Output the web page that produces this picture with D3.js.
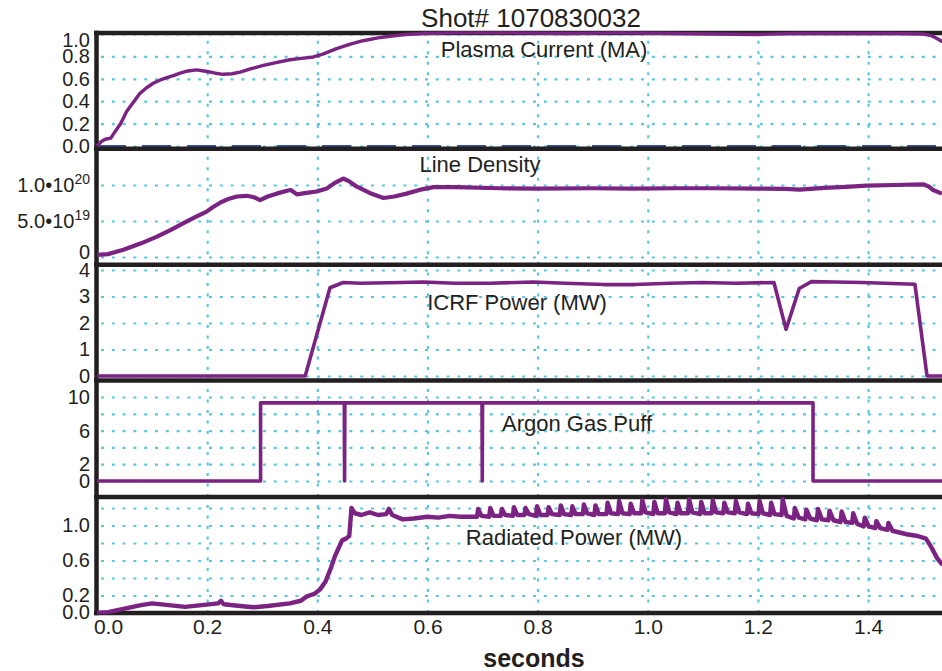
<!DOCTYPE html>
<html><head><meta charset="utf-8">
<script src="https://cdn.jsdelivr.net/npm/d3@7"></script>
<style>
body{margin:0;background:#fff;}
text{font-family:"Liberation Sans",Arial,Helvetica,sans-serif;fill:#231f20;}
</style></head>
<body>
<script>
// ---------------- DATA ----------------
const title = "Shot# 1070830032";
const xLabel = "seconds";
const xTickValues = [0.0, 0.2, 0.4, 0.6, 0.8, 1.0, 1.2, 1.4];
const panelTitles = ["Plasma Current (MA)", "Line Density", "ICRF Power (MW)", "Argon Gas Puff", "Radiated Power (MW)"];

const ipTicks = [0.0, 0.2, 0.4, 0.6, 0.8, 1.0];
const neTicks = [0, 5e19, 1e20];
const neTickLabels = [["0", ""], ["5.0\u202210", "19"], ["1.0\u202210", "20"]];
const icrfTicks = [0, 1, 2, 3, 4];
const argonGrid = [0, 2, 4, 6, 8, 10];
const argonTicks = [0, 2, 6, 10];
const pradGrid = [0.2, 0.4, 0.6, 0.8, 1.0, 1.2];
const pradTicks = [0.0, 0.2, 0.6, 1.0];

const plasmaCurrent = [[0,0.0],[0.008,0.04],[0.015,0.06],[0.025,0.07],[0.033,0.13],[0.043,0.2],[0.054,0.31],[0.066,0.39],[0.078,0.47],[0.09,0.52],[0.102,0.56],[0.115,0.59],[0.127,0.61],[0.14,0.63],[0.151,0.65],[0.165,0.67],[0.181,0.68],[0.2,0.665],[0.215,0.65],[0.229,0.64],[0.245,0.645],[0.26,0.66],[0.28,0.69],[0.302,0.72],[0.325,0.745],[0.35,0.77],[0.375,0.785],[0.393,0.795],[0.41,0.82],[0.435,0.87],[0.46,0.91],[0.483,0.94],[0.51,0.965],[0.532,0.98],[0.56,0.995],[0.592,1.005],[0.65,1.01],[0.75,1.01],[0.85,1.005],[0.95,1.01],[1.05,1.005],[1.12,1.0],[1.2,0.995],[1.26,1.005],[1.35,1.005],[1.45,1.005],[1.5,1.0],[1.515,0.985],[1.525,0.96],[1.535,0.93]];
const plasmaZero = [[0,0],[1.55,0]];

const lineDensity = [[0,0.03e20],[0.02,0.04e20],[0.048,0.1e20],[0.08,0.19e20],[0.108,0.28e20],[0.135,0.38e20],[0.157,0.47e20],[0.18,0.56e20],[0.199,0.63e20],[0.21,0.69e20],[0.225,0.76e20],[0.24,0.81e20],[0.254,0.84e20],[0.272,0.85e20],[0.285,0.83e20],[0.296,0.79e20],[0.31,0.84e20],[0.326,0.88e20],[0.345,0.92e20],[0.352,0.93e20],[0.363,0.87e20],[0.38,0.89e20],[0.399,0.91e20],[0.417,0.95e20],[0.432,1.03e20],[0.447,1.09e20],[0.458,1.05e20],[0.471,0.98e20],[0.495,0.89e20],[0.52,0.82e20],[0.54,0.84e20],[0.562,0.88e20],[0.59,0.94e20],[0.611,0.97e20],[0.653,0.97e20],[0.73,0.955e20],[0.8,0.95e20],[0.9,0.955e20],[0.974,0.95e20],[1.05,0.955e20],[1.12,0.955e20],[1.198,0.95e20],[1.25,0.945e20],[1.276,0.935e20],[1.32,0.96e20],[1.36,0.975e20],[1.397,0.99e20],[1.45,1.0e20],[1.5,1.01e20],[1.51,0.98e20],[1.518,0.93e20],[1.534,0.88e20]];

const icrfPower = [[0,0],[0.378,0],[0.423,3.33],[0.447,3.53],[0.478,3.5],[0.53,3.52],[0.593,3.55],[0.65,3.5],[0.715,3.5],[0.792,3.55],[0.85,3.5],[0.92,3.45],[0.976,3.45],[1.04,3.5],[1.098,3.53],[1.16,3.5],[1.229,3.53],[1.251,1.76],[1.275,3.3],[1.297,3.56],[1.34,3.55],[1.389,3.53],[1.485,3.46],[1.507,0],[1.55,0]];

const argonPuff = [[0,0],[0.297,0],[0.297,9.3],[0.449,9.3],[0.4495,0],[0.450,9.3],[0.699,9.3],[0.6995,0],[0.700,9.3],[1.300,9.3],[1.300,0],[1.55,0]];

const radiatedPower = [[0,0],[0.02,0.01],[0.05,0.05],[0.08,0.09],[0.1,0.11],[0.13,0.09],[0.16,0.07],[0.19,0.09],[0.22,0.11],[0.225,0.14],[0.23,0.1],[0.26,0.08],[0.284,0.065],[0.31,0.08],[0.35,0.11],[0.37,0.14],[0.381,0.19],[0.395,0.22],[0.405,0.27],[0.415,0.36],[0.425,0.52],[0.432,0.65],[0.44,0.76],[0.445,0.83],[0.452,0.85],[0.458,0.88],[0.462,1.2],[0.468,1.14],[0.48,1.12],[0.495,1.15],[0.51,1.12],[0.525,1.13],[0.53,1.19],[0.536,1.12],[0.555,1.07],[0.575,1.08],[0.6,1.1],[0.62,1.09],[0.64,1.11],[0.66,1.1],
[0.690,1.10],[0.692,1.19],[0.698,1.11],[0.712,1.10],[0.714,1.20],[0.720,1.11],[0.733,1.11],[0.735,1.19],[0.741,1.12],[0.755,1.11],[0.757,1.21],[0.763,1.12],[0.776,1.12],[0.778,1.20],[0.784,1.13],[0.797,1.11],[0.799,1.22],[0.805,1.12],[0.818,1.12],[0.820,1.21],[0.826,1.13],[0.840,1.12],[0.842,1.23],[0.848,1.13],[0.861,1.12],[0.863,1.22],[0.869,1.13],[0.882,1.13],[0.884,1.24],[0.890,1.14],[0.903,1.12],[0.905,1.23],[0.911,1.13],[0.925,1.13],[0.927,1.26],[0.933,1.14],[0.946,1.13],[0.948,1.28],[0.954,1.14],[0.967,1.13],[0.969,1.25],[0.975,1.14],[0.988,1.14],[0.990,1.29],[0.996,1.15],[1.010,1.13],[1.012,1.27],[1.018,1.14],[1.031,1.14],[1.033,1.30],[1.039,1.15],[1.052,1.13],[1.054,1.26],[1.060,1.14],[1.073,1.14],[1.075,1.30],[1.081,1.15],[1.095,1.13],[1.097,1.27],[1.103,1.14],[1.116,1.14],[1.118,1.29],[1.124,1.15],[1.137,1.14],[1.139,1.26],[1.145,1.15],[1.158,1.14],[1.160,1.28],[1.166,1.15],[1.180,1.13],[1.182,1.25],[1.188,1.14],[1.201,1.13],[1.203,1.28],[1.209,1.14],[1.222,1.12],[1.224,1.26],[1.230,1.13],[1.243,1.12],[1.245,1.30],[1.252,1.11],[1.265,1.08],[1.267,1.20],[1.274,1.09],[1.286,1.07],[1.288,1.18],[1.295,1.08],[1.307,1.06],[1.309,1.19],[1.316,1.07],[1.328,1.06],[1.330,1.17],[1.337,1.06],[1.350,1.04],[1.352,1.16],[1.359,1.04],[1.371,1.03],[1.373,1.14],[1.380,1.02],[1.392,0.99],[1.394,1.09],[1.401,0.99],[1.413,0.97],[1.415,1.05],[1.422,0.97],[1.435,0.95],[1.437,1.03],[1.444,0.94],
[1.47,0.90],[1.49,0.88],[1.505,0.85],[1.515,0.75],[1.525,0.63],[1.535,0.55]];

// ---------------- LAYOUT ----------------
const W = 942, H = 671;
const purple = "#7b2382", cyan = "#5ac8dc", ink = "#231f20", navy = "#3552a0";
const xLeft = 97, xRight = 950;
const x = d3.scaleLinear().domain([0, 1.4]).range([97, 868.1]);
const fontFam = '"Liberation Sans",Arial,Helvetica,sans-serif';

const panels = [
  {data: plasmaCurrent, y: d3.scaleLinear().domain([0, 1]).range([146, 34]), top: 33, bot: 148.7, sw: 3.4,
   grid: ipTicks, ticks: ipTicks, fmt: d3.format(".1f"), title: panelTitles[0], tx: 544, ty: 57},
  {data: lineDensity, y: d3.scaleLinear().domain([0, 1e20]).range([257, 185]), top: 148.7, bot: 264.7, sw: 4.2,
   grid: neTicks, ticks: neTicks, fmt: null, title: panelTitles[1], tx: 480, ty: 172},
  {data: icrfPower, y: d3.scaleLinear().domain([0, 4]).range([376, 270]), top: 264.7, bot: 380.5, sw: 3.6,
   grid: icrfTicks, ticks: icrfTicks, fmt: d3.format("d"), title: panelTitles[2], tx: 517, ty: 310},
  {data: argonPuff, y: d3.scaleLinear().domain([0, 10]).range([481, 397]), top: 380.5, bot: 497, sw: 3.6,
   grid: argonGrid, ticks: argonTicks, fmt: d3.format("d"), title: panelTitles[3], tx: 577, ty: 431},
  {data: radiatedPower, y: d3.scaleLinear().domain([0, 1]).range([613, 525.5]), top: 497, bot: 613, sw: 4.4,
   grid: pradGrid, ticks: pradTicks, fmt: d3.format(".1f"), title: panelTitles[4], tx: 574, ty: 545}
];

const svg = d3.select("body").append("svg").attr("width", W).attr("height", H);
const defs = svg.append("defs");

// grids
panels.forEach((p, i) => {
  const g = svg.append("g");
  const hg = g.append("g").attr("transform", `translate(${xLeft},0)`)
    .call(d3.axisLeft(p.y).tickValues(p.grid).tickSize(-(xRight - xLeft)).tickFormat(""));
  hg.select(".domain").remove();
  hg.selectAll("line").attr("stroke", cyan).attr("stroke-width", 2.2).attr("stroke-dasharray", "3,7.8").attr("transform", "translate(4,0)");
  const vg = g.append("g").attr("transform", `translate(0,${p.bot})`)
    .call(d3.axisBottom(x).tickValues([0.2, 0.4, 0.6, 0.8, 1.0, 1.2, 1.4]).tickSize(-(p.bot - p.top)).tickFormat(""));
  vg.select(".domain").remove();
  vg.selectAll("line").attr("stroke", cyan).attr("stroke-width", 2.2).attr("stroke-dasharray", "3,7.5");
});

// blue dashed zero line in panel 1
svg.append("path").datum(plasmaZero)
  .attr("d", d3.line().x(d => x(d[0])).y(d => panels[0].y(d[1])))
  .attr("fill", "none").attr("stroke", navy).attr("stroke-width", 2.2).attr("stroke-dasharray", "29,16");

// frames
const frameYs = [33, 148.7, 264.7, 380.5, 497, 613];
svg.append("g").selectAll("line").data(frameYs).join("line")
  .attr("x1", 94).attr("x2", W + 10).attr("y1", d => d).attr("y2", d => d)
  .attr("stroke", ink).attr("stroke-width", 4.5);
svg.append("line").attr("x1", 96.5).attr("x2", 96.5).attr("y1", 30.8).attr("y2", 615.2)
  .attr("stroke", ink).attr("stroke-width", 4.5);

// data lines
panels.forEach((p, i) => {
  defs.append("clipPath").attr("id", "clip" + i).append("rect")
    .attr("x", 95).attr("y", p.top - 2.5).attr("width", W).attr("height", p.bot - p.top + 4);
  svg.append("path").datum(p.data)
    .attr("clip-path", `url(#clip${i})`)
    .attr("d", d3.line().x(d => x(d[0])).y(d => p.y(d[1])))
    .attr("fill", "none").attr("stroke", purple).attr("stroke-width", p.sw)
    .attr("stroke-linejoin", "round");
});

// y tick labels
panels.forEach((p, i) => {
  const ax = svg.append("g").attr("transform", `translate(96,0)`)
    .call(d3.axisLeft(p.y).tickValues(p.ticks).tickSize(0).tickPadding(6).tickFormat(p.fmt || (d => "")));
  ax.select(".domain").remove();
  ax.selectAll("text").style("font-size", "20px").attr("fill", ink).style("font-family", fontFam);
  if (i === 0) ax.selectAll("text").filter(d => d === 1).attr("dy", "0.6em");
  if (i === 1) {
    ax.selectAll("text").each(function(d) {
      const t = d3.select(this);
      const lab = neTickLabels[neTicks.indexOf(d)];
      t.text(null);
      t.append("tspan").text(lab[0]);
      if (lab[1]) t.append("tspan").attr("dy", "-0.55em").style("font-size", "14px").text(lab[1]);
    });
    ax.selectAll("text").filter(d => d === 0).attr("dy", "0.05em");
  }
  if (i === 4) ax.selectAll("text").filter(d => d === 0).attr("dy", "0.25em");
});

// x axis
const xa = svg.append("g").attr("transform", "translate(0,613)")
  .call(d3.axisBottom(x).tickValues(xTickValues).tickSize(0).tickPadding(6).tickFormat(d3.format(".1f")));
xa.select(".domain").remove();
xa.selectAll("text").style("font-size", "21px").attr("fill", ink).style("font-family", fontFam);
xa.selectAll("text").filter(d => d === 0).attr("dx", "11");

// panel titles
panels.forEach(p => {
  svg.append("text").attr("x", p.tx).attr("y", p.ty).attr("text-anchor", "middle")
    .style("font-size", "22px").text(p.title);
});

// main title and x label
svg.append("text").attr("x", 531).attr("y", 27).attr("text-anchor", "middle")
  .style("font-size", "26px").text(title);
svg.append("text").attr("x", 534).attr("y", 667).attr("text-anchor", "middle")
  .style("font-size", "25px").style("font-weight", "bold").text(xLabel);
</script>
</body></html>
